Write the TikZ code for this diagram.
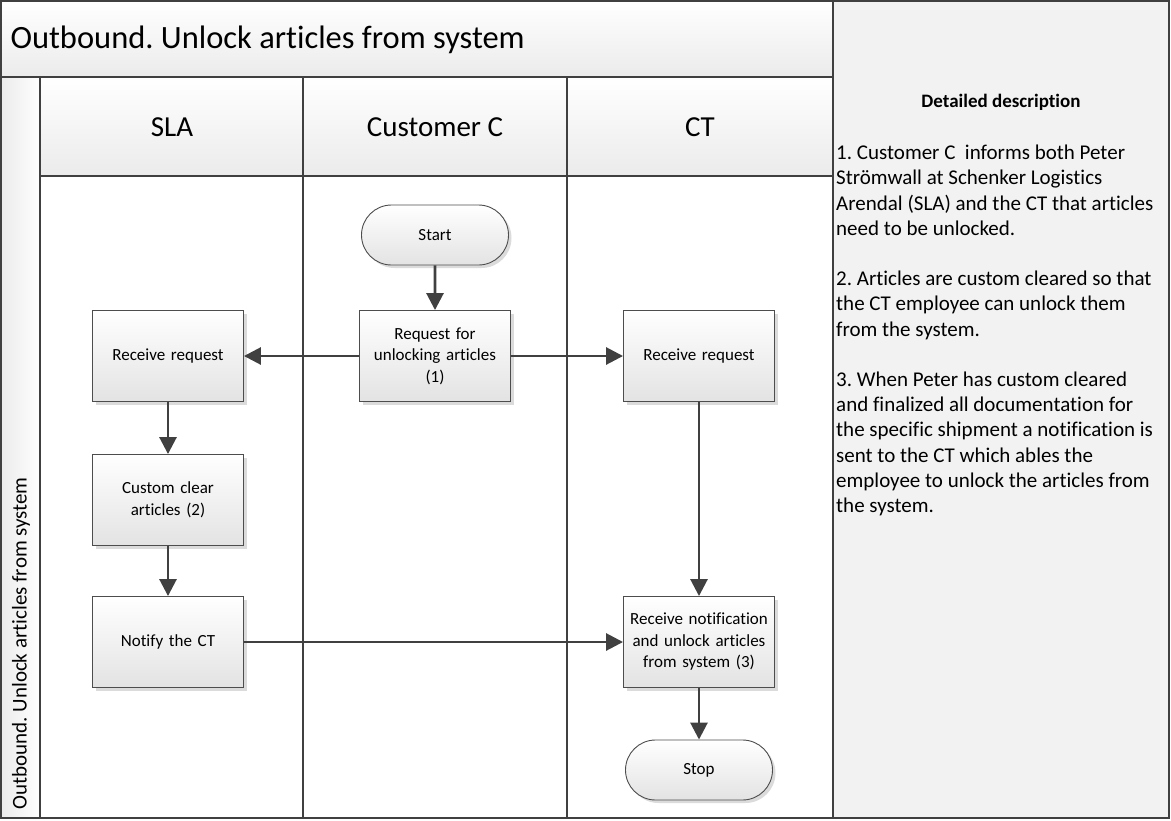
\documentclass[tikz,border=0pt]{standalone}
\usepackage{fontspec}
\setmainfont{Carlito}[Ligatures=NoCommon]
\usetikzlibrary{shapes.misc,shadows,arrows.meta}
\frenchspacing

\definecolor{frame}{HTML}{404040}
\definecolor{boxline}{HTML}{4D4D4D}
\definecolor{panel}{HTML}{F2F2F2}
\definecolor{headlo}{HTML}{EBEBEB}

\tikzset{
  frameline/.style={draw=frame, line width=1.8pt},
  header/.style={frameline, top color=white, bottom color=headlo},
  procbox/.style={draw=boxline, line width=0.9pt, rectangle,
    minimum width=151pt, minimum height=91pt, inner sep=1pt,
    text width=149pt, align=center, font=\fontsize{17}{21.5}\selectfont,
    top color=white, bottom color=gray!22,
    drop shadow={shadow xshift=3pt, shadow yshift=-3pt, fill=gray!28, opacity=1}},
  termbox/.style={draw=boxline, line width=0.9pt, rounded rectangle,
    minimum width=151pt, minimum height=60pt, inner sep=2pt,
    font=\fontsize{17}{21.5}\selectfont,
    top color=white, bottom color=gray!22,
    drop shadow={shadow xshift=3pt, shadow yshift=-3pt, fill=gray!28, opacity=1}},
  flow/.style={draw=frame, line width=2.8pt, -{Triangle[length=17pt,width=17pt]}},
  lanetitle/.style={font=\fontsize{29}{34}\selectfont},
}

\begin{document}
\begin{tikzpicture}[x=1pt,y=-1pt]
  \useasboundingbox (0,0) rectangle (1171,820);

  % description panel
  \fill[panel] (833,1) rectangle (1169,818);

  % title band and lane headers
  \path[header] (1,1) rectangle (833,77);
  \path[frameline, left color=headlo, right color=white] (1,77) rectangle (40,818);
  \path[header] (40,77) rectangle (833,176);
  \draw[frameline] (40,176) rectangle (833,818);
  \draw[frameline] (303,77) -- (303,818);
  \draw[frameline] (567,77) -- (567,818);
  \draw[frameline] (1,1) rectangle (1169,818);

  \node[anchor=west, font=\fontsize{32.5}{38}\selectfont] (title) at (7,40)
    {Outbound. Unlock articles from system};
  \node[rotate=90, anchor=west, font=\fontsize{21}{25}\selectfont] (pool) at (21,813)
    {Outbound. Unlock articles from system};
  \node[lanetitle] (laneSLA) at (172,127) {SLA};
  \node[lanetitle] (laneC) at (435,127) {Customer C};
  \node[lanetitle] (laneCT) at (700,127) {CT};

  % process steps
  \node[termbox] (start) at (435,235) {Start};
  \node[procbox] (req) at (435,356) {Request for\\unlocking articles\\(1)};
  \node[procbox] (recvS) at (168,356) {Receive request};
  \node[procbox] (recvCT) at (699,356) {Receive request};
  \node[procbox] (clear) at (168,500) {Custom clear\\articles (2)};
  \node[procbox] (notify) at (168,642) {Notify the CT};
  \node[procbox] (unlock) at (699,642) {Receive notification\\and unlock articles\\from system (3)};
  \node[termbox] (stop) at (699,770) {Stop};

  % connectors
  \draw[flow] (start) -- (req);
  \draw[flow] (req) -- (recvS);
  \draw[flow] (req) -- (recvCT);
  \draw[flow] (recvS) -- (clear);
  \draw[flow] (clear) -- (notify);
  \draw[flow] (recvCT) -- (unlock);
  \draw[flow] (notify) -- (unlock);
  \draw[flow] (unlock) -- (stop);

  % description text
  \node[font=\bfseries\fontsize{19}{23}\selectfont] (deschead) at (1001,102) {Detailed description};
  \node[anchor=north west, align=left, inner sep=0pt,
        font=\fontsize{21}{25.2}\selectfont] (desc) at (836,145)
    {1. Customer C\ \ informs both Peter\\
     Strömwall at Schenker Logistics\\
     Arendal (SLA) and the CT that articles\\
     need to be unlocked.\\[25.2pt]
     2. Articles are custom cleared so that\\
     the CT employee can unlock them\\
     from the system.\\[25.2pt]
     3. When Peter has custom cleared\\
     and finalized all documentation for\\
     the specific shipment a notification is\\
     sent to the CT which ables the\\
     employee to unlock the articles from\\
     the system.};
\end{tikzpicture}
\end{document}
